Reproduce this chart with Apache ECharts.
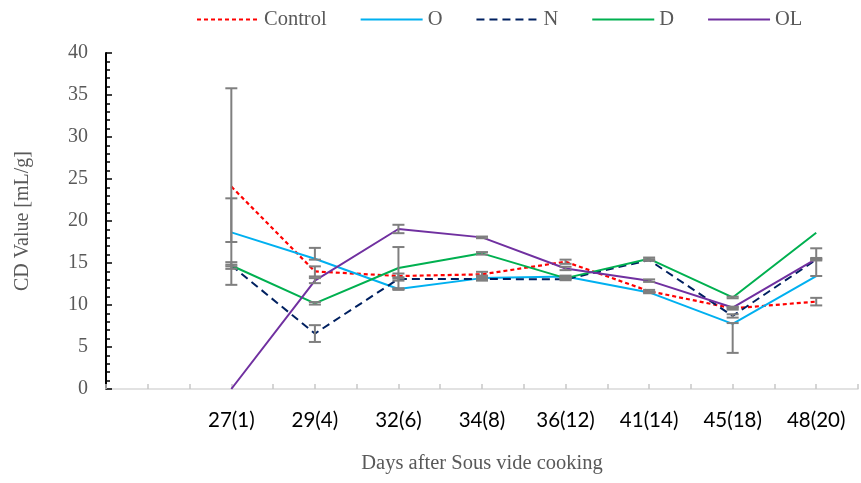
<!DOCTYPE html>
<html>
<head>
<meta charset="utf-8">
<script src="https://cdn.jsdelivr.net/npm/echarts@6/dist/echarts.min.js"></script>
<style>
  html, body { margin: 0; padding: 0; background: #ffffff; }
  #chart { width: 861px; height: 483px; }
</style>
</head>
<body>
<div id="chart"></div>
<script>
// Storage day labels (days after cooking, with sample point in brackets)
const categories = ['27(1)', '29(4)', '32(6)', '34(8)', '36(12)', '41(14)', '45(18)', '48(20)'];

// CD value [mL/g] per treatment
const controlValues = [24.1, 14.0, 13.45, 13.65, 15.15, 11.65, 9.6, 10.4];
const oValues       = [18.65, 15.5, 11.9, 13.2, 13.4, 11.5, 7.75, 13.45];
const nValues       = [14.7, 6.6, 13.1, 13.1, 13.05, 15.35, 8.7, 15.4];
const dValues       = [14.7, 10.2, 14.4, 16.15, 13.2, 15.5, 10.9, 18.6];
const olValues      = [0, 12.9, 19.05, 18.05, 14.35, 12.9, 9.7, 15.5];

// Error bar extents above / below each point (null = no bar)
const controlErrUp   = [11.7, 0.6, 0.3, 0.3, 0.25, 0.15, 0.15, 0.45];
const controlErrDown = [11.7, 0.6, 0.3, 0.3, 0.25, 0.15, 0.15, 0.45];
const oErrUp         = [4.05, 1.3, 0.1, 0.3, 0.1, 0.1, 0.1, 3.3];
const oErrDown       = [1.15, 0.1, 0.1, 0.3, 0.1, 0.1, 3.45, 0];
const nErrUp         = [0.4, 1.0, 0.2, 0.1, 0.1, 0.1, 0.2, 0.1];
const nErrDown       = [0.4, 1.0, 0.2, 0.1, 0.1, 0.1, 0.2, 0.1];
const dErrUp         = [0.1, 0.15, 2.5, 0.15, 0.1, 0.15, 0.1, null];
const dErrDown       = [0.1, 0.15, 2.5, 0.15, 0.1, 0.15, 0.1, null];
const olErrUp        = [null, 0.3, 0.5, 0.1, 0.2, 0.15, 0.1, 0.1];
const olErrDown      = [null, 0.3, 0.5, 0.1, 0.2, 0.15, 0.1, 0.1];

const yAxisLabel = 'CD Value [mL/g]';
const xAxisLabel = 'Days after Sous vide cooking';

const seriesDefs = [
  { name: 'Control', values: controlValues, up: controlErrUp, down: controlErrDown,
    color: '#ff0000', width: 2.2, type: [4, 3] },
  { name: 'O', values: oValues, up: oErrUp, down: oErrDown,
    color: '#00b0f0', width: 2, type: 'solid' },
  { name: 'N', values: nValues, up: nErrUp, down: nErrDown,
    color: '#002060', width: 2, type: [8, 5] },
  { name: 'D', values: dValues, up: dErrUp, down: dErrDown,
    color: '#00b050', width: 2, type: 'solid' },
  { name: 'OL', values: olValues, up: olErrUp, down: olErrDown,
    color: '#7030a0', width: 2, type: 'solid' }
];

const serif = '"Liberation Serif", "Times New Roman", serif';

// x positions are category indices on a value axis, so the half-step ticks can be drawn
const lineSeries = seriesDefs.map(s => ({
  name: s.name,
  type: 'line',
  symbol: 'none',
  data: s.values.map((v, i) => [i, v]),
  lineStyle: { color: s.color, width: s.width, type: s.type },
  itemStyle: { color: s.color },
  z: 3
}));

const errorData = [];
seriesDefs.forEach(s => {
  s.values.forEach((v, i) => {
    if (s.up[i] === null || s.down[i] === null) return;
    errorData.push([i, v - s.down[i], v + s.up[i]]);
  });
});

const errorSeries = {
  type: 'custom',
  name: 'error',
  z: 4,
  silent: true,
  data: errorData,
  encode: { x: 0, y: [1, 2] },
  renderItem: function (params, api) {
    const x = api.value(0);
    const top = api.coord([x, api.value(2)]);
    const bot = api.coord([x, api.value(1)]);
    const hw = 6;
    const st = { stroke: '#7f7f7f', lineWidth: 2 };
    return {
      type: 'group',
      children: [
        { type: 'line', shape: { x1: top[0], y1: top[1], x2: bot[0], y2: bot[1] }, style: st },
        { type: 'line', shape: { x1: top[0] - hw, y1: top[1], x2: top[0] + hw, y2: top[1] }, style: st },
        { type: 'line', shape: { x1: bot[0] - hw, y1: bot[1], x2: bot[0] + hw, y2: bot[1] }, style: st }
      ]
    };
  }
};

const chart = echarts.init(document.getElementById('chart'), null, { renderer: 'canvas' });
chart.setOption({
  animation: false,
  backgroundColor: '#ffffff',
  legend: {
    data: seriesDefs.map(s => s.name),
    left: 191,
    top: 4,
    itemWidth: 62,
    itemHeight: 14,
    itemGap: 33,
    itemStyle: { opacity: 0 },
    textStyle: { fontFamily: serif, fontSize: 20.5, color: '#595959' }
  },
  grid: { left: 106, right: -4, top: 53, bottom: 94 },
  xAxis: {
    type: 'value',
    min: -1.5,
    max: 7.5,
    interval: 0.5,
    name: xAxisLabel,
    nameLocation: 'middle',
    nameGap: 64,
    nameTextStyle: { fontFamily: serif, fontSize: 20.5, color: '#595959' },
    axisLine: { show: true, onZero: false, lineStyle: { color: '#d9d9d9', width: 1.5 } },
    axisTick: { show: true, inside: true, length: 5, lineStyle: { color: '#c8c8c8', width: 1.5 } },
    axisLabel: {
      margin: 21,
      fontFamily: 'Lato, "Open Sans", sans-serif',
      fontSize: 20.5,
      color: '#000000',
      formatter: function (v) {
        const r = Math.round(v);
        return (Math.abs(v - r) < 1e-6 && r >= 0 && r < categories.length) ? categories[r] : '';
      }
    },
    splitLine: { show: false }
  },
  yAxis: {
    type: 'value',
    min: 0,
    max: 40,
    interval: 5,
    name: yAxisLabel,
    nameLocation: 'middle',
    nameGap: 73,
    nameTextStyle: { fontFamily: serif, fontSize: 20, color: '#595959' },
    axisLine: { show: true, onZero: false, lineStyle: { color: '#000000', width: 2 } },
    axisTick: { show: true, inside: true, length: 6, lineStyle: { color: '#000000', width: 1.5 } },
    minorTick: { show: true, splitNumber: 5, length: 4, lineStyle: { color: '#000000', width: 1.5 } },
    axisLabel: { margin: 18, fontFamily: serif, fontSize: 20, color: '#595959' },
    splitLine: { show: false }
  },
  series: lineSeries.concat([errorSeries])
});
</script>
</body>
</html>
